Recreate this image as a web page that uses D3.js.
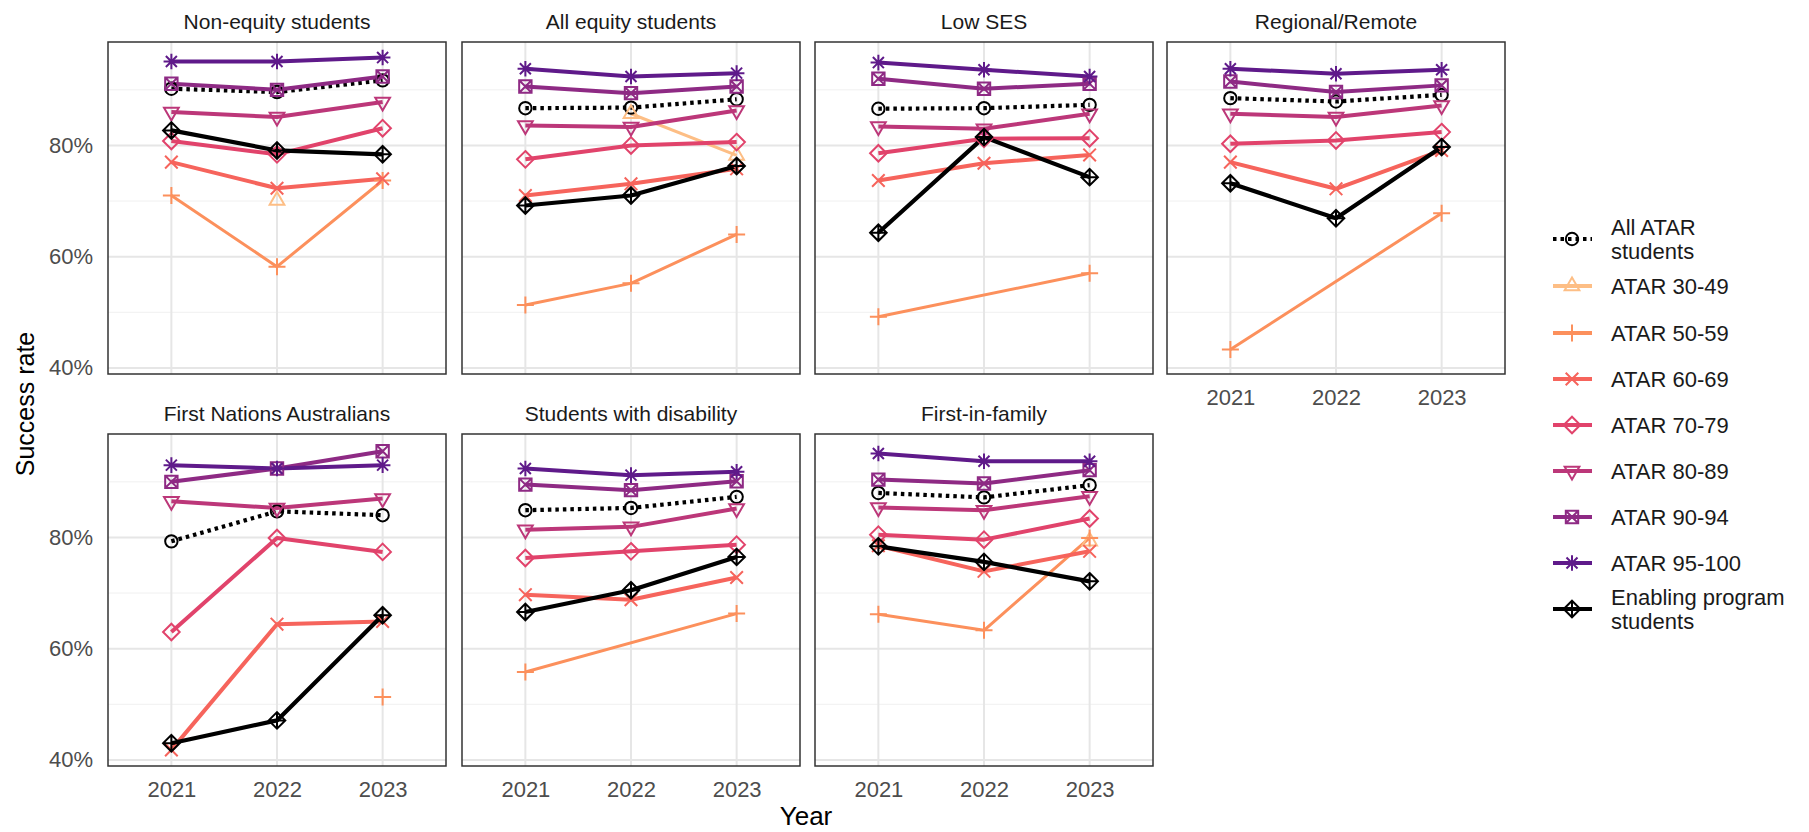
<!DOCTYPE html>
<html><head><meta charset="utf-8">
<script src="https://cdn.jsdelivr.net/npm/d3@7"></script>
<style>
body{margin:0;background:#fff;}
text{font-family:"Liberation Sans",Arial,Helvetica,sans-serif;}
</style>
</head><body>
<svg id="chart" width="1809" height="832"></svg>
<script>
// ---------------- DATA ----------------
const years = ["2021", "2022", "2023"];
const panelTitles = ["Non-equity students", "All equity students", "Low SES", "Regional/Remote",
  "First Nations Australians", "Students with disability", "First-in-family"];
const seriesNames = ["All ATAR students", "ATAR 30-49", "ATAR 50-59", "ATAR 60-69", "ATAR 70-79",
  "ATAR 80-89", "ATAR 90-94", "ATAR 95-100", "Enabling program students"];
const yTickValues = [40, 60, 80];
const yMinorValues = [50, 70, 90];

// rows = panels (same order as panelTitles), columns = years
const allAtar = [[90.2, 89.6, 91.7], [86.7, 86.8, 88.3], [86.6, 86.7, 87.3], [88.5, 87.9, 89.1],
  [79.3, 84.7, 84.0], [84.9, 85.3, 87.3], [88.0, 87.2, 89.4]];
const atar3049 = [[null, 70.1, null], [null, 85.7, 78.2], [null, null, null], [null, null, null],
  [null, null, null], [null, null, null], [null, null, 79.3]];
const atar5059 = [[71.0, 58.2, 73.7], [51.3, 55.2, 64.0], [49.2, null, 57.0], [43.3, null, 67.8],
  [null, null, 51.3], [55.8, null, 66.3], [66.2, 63.3, 79.9]];
const atar6069 = [[77.0, 72.3, 74.0], [71.0, 73.1, 75.8], [73.7, 76.8, 78.3], [77.0, 72.2, 79.1],
  [41.8, 64.4, 64.9], [69.7, 68.8, 72.8], [78.5, 73.9, 77.5]];
const atar7079 = [[80.8, 78.4, 83.1], [77.5, 80.0, 80.6], [78.6, 81.2, 81.3], [80.3, 80.9, 82.4],
  [63.0, 79.9, 77.4], [76.3, 77.5, 78.7], [80.5, 79.6, 83.4]];
const atar8089 = [[86.0, 85.1, 87.8], [83.6, 83.3, 86.3], [83.4, 83.0, 85.7], [85.7, 85.1, 87.2],
  [86.5, 85.3, 87.0], [81.4, 81.9, 85.2], [85.4, 84.9, 87.4]];
const atar9094 = [[91.1, 90.0, 92.4], [90.6, 89.4, 90.6], [92.0, 90.2, 91.1], [91.5, 89.6, 90.8],
  [90.0, 92.4, 95.5], [89.5, 88.5, 90.1], [90.4, 89.7, 92.1]];
const atar95100 = [[95.1, 95.1, 95.8], [93.8, 92.4, 93.0], [94.9, 93.6, 92.4], [93.8, 92.9, 93.6],
  [93.0, 92.4, 93.0], [92.4, 91.2, 91.8], [95.1, 93.7, 93.7]];
const enabling = [[82.7, 79.1, 78.4], [69.2, 71.0, 76.3], [64.3, 81.5, 74.3], [73.2, 66.9, 79.7],
  [43.0, 47.1, 66.0], [66.6, 70.5, 76.5], [78.4, 75.6, 72.1]];

const seriesValues = [allAtar, atar3049, atar5059, atar6069, atar7079, atar8089, atar9094, atar95100, enabling];

// ---------------- STYLE ----------------
const seriesColors = ["#000000", "#FDBE85", "#FC905C", "#F6645C", "#E1436B", "#BC3779", "#8E2A84", "#5F1A8A", "#000000"];
const seriesShapes = ["circle", "triUp", "plus", "cross", "diamond", "triDown", "squareX", "asterisk", "diamondPlus"];
const seriesWidths = [4.2, 3, 3, 4, 4, 4, 4, 4, 4.2];
const seriesDash = [null, null, null, null, null, null, null, null, null];
seriesDash[0] = "3.5,4";

const svg = d3.select("#chart");
const panelW = 338, panelH = 332;
const colLefts = [108, 462, 815, 1167];
const rowTops = [42, 434];
const yDomain = [38.9, 98.6];

function shapePath(shape) {
  switch (shape) {
    case "circle": { const r = 6.2; return `M${-r},0A${r},${r} 0 1,0 ${r},0A${r},${r} 0 1,0 ${-r},0Z`; }
    case "triUp": { const R = 8.5; return `M0,${-R}L${R*0.866},${R/2}L${-R*0.866},${R/2}Z`; }
    case "triDown": { const R = 8.5; return `M0,${R}L${R*0.866},${-R/2}L${-R*0.866},${-R/2}Z`; }
    case "plus": { const r = 8.5; return `M${-r},0H${r}M0,${-r}V${r}`; }
    case "cross": { const r = 6.3; return `M${-r},${-r}L${r},${r}M${-r},${r}L${r},${-r}`; }
    case "diamond": { const r = 8.3; return `M0,${-r}L${r},0L0,${r}L${-r},0Z`; }
    case "squareX": { const r = 6.2; return `M${-r},${-r}H${r}V${r}H${-r}ZM${-r},${-r}L${r},${r}M${-r},${r}L${r},${-r}`; }
    case "asterisk": { const r = 7.8, d = r*0.707; return `M${-r},0H${r}M0,${-r}V${r}M${-d},${-d}L${d},${d}M${-d},${d}L${d},${-d}`; }
    case "diamondPlus": { const r = 8.3; return `M0,${-r}L${r},0L0,${r}L${-r},0ZM${-r},0H${r}M0,${-r}V${r}`; }
  }
}

const y = d3.scaleLinear().domain(yDomain);

panelTitles.forEach((title, p) => {
  const row = p < 4 ? 0 : 1;
  const col = p < 4 ? p : p - 4;
  const left = colLefts[col], top = rowTops[row];
  const x = d3.scalePoint().domain(years).range([0, panelW]).padding(0.6);
  const ys = y.copy().range([panelH, 0]);
  const g = svg.append("g").attr("transform", `translate(${left},${top})`);

  // grid
  g.selectAll("line.minor").data(yMinorValues).join("line")
    .attr("x1", 0).attr("x2", panelW).attr("y1", d => ys(d)).attr("y2", d => ys(d))
    .attr("stroke", "#f0f0f0").attr("stroke-width", 1);
  g.selectAll("line.major").data(yTickValues).join("line")
    .attr("x1", 0).attr("x2", panelW).attr("y1", d => ys(d)).attr("y2", d => ys(d))
    .attr("stroke", "#e6e6e6").attr("stroke-width", 2);
  g.selectAll("line.vgrid").data(years).join("line")
    .attr("x1", d => x(d)).attr("x2", d => x(d)).attr("y1", 0).attr("y2", panelH)
    .attr("stroke", "#e6e6e6").attr("stroke-width", 2);

  // lines
  seriesValues.forEach((vals, s) => {
    const pts = years.map((yr, i) => ({ yr, v: vals[p][i] })).filter(d => d.v !== null);
    if (pts.length > 1) {
      g.append("path").datum(pts)
        .attr("d", d3.line().x(d => x(d.yr)).y(d => ys(d.v)))
        .attr("fill", "none").attr("stroke", seriesColors[s])
        .attr("stroke-width", seriesWidths[s])
        .attr("stroke-dasharray", seriesDash[s])
        .attr("stroke-linejoin", "round");
    }
  });
  // points
  seriesValues.forEach((vals, s) => {
    const pts = years.map((yr, i) => ({ yr, v: vals[p][i] })).filter(d => d.v !== null);
    g.selectAll(null).data(pts).join("path")
      .attr("transform", d => `translate(${x(d.yr)},${ys(d.v)})`)
      .attr("d", shapePath(seriesShapes[s]))
      .attr("fill", "none").attr("stroke", seriesColors[s]).attr("stroke-width", 2);
  });

  // border
  g.append("rect").attr("x", 0).attr("y", 0).attr("width", panelW).attr("height", panelH)
    .attr("fill", "none").attr("stroke", "#333").attr("stroke-width", 1.5);

  // strip title
  g.append("text").attr("x", panelW / 2).attr("y", -13.5).attr("text-anchor", "middle")
    .attr("font-size", 21).attr("fill", "#1a1a1a").text(title);

  // y axis
  if (col === 0) {
    const ax = g.append("g").call(d3.axisLeft(ys).tickValues(yTickValues).tickSize(0).tickPadding(15)
      .tickFormat(d => d + "%"));
    ax.select(".domain").remove();
    ax.selectAll("text").attr("font-size", 22).attr("fill", "#4d4d4d")
      .attr("font-family", "'Liberation Sans',Arial,sans-serif");
  }
  // x axis
  if (row === 1 || col === 3) {
    const ax = g.append("g").attr("transform", `translate(0,${panelH})`)
      .call(d3.axisBottom(x).tickSize(0).tickPadding(15));
    ax.select(".domain").remove();
    ax.selectAll("text").attr("font-size", 22).attr("fill", "#4d4d4d")
      .attr("font-family", "'Liberation Sans',Arial,sans-serif");
  }
});

// axis titles
svg.append("text").attr("x", 806).attr("y", 825).attr("text-anchor", "middle")
  .attr("font-size", 26).attr("fill", "#000").text("Year");
svg.append("text").attr("transform", "translate(34,404) rotate(-90)").attr("text-anchor", "middle")
  .attr("font-size", 25).attr("fill", "#000").text("Success rate");

// legend
const legendYs = [239, 286, 333, 379, 425, 471, 517, 563, 609];
const legendLines = [["All ATAR", "students"], ["ATAR 30-49"], ["ATAR 50-59"], ["ATAR 60-69"], ["ATAR 70-79"],
  ["ATAR 80-89"], ["ATAR 90-94"], ["ATAR 95-100"], ["Enabling program", "students"]];
const lg = svg.append("g");
seriesNames.forEach((name, s) => {
  const cy = legendYs[s];
  const item = lg.append("g").attr("transform", `translate(1572,${cy})`);
  item.append("line").attr("x1", -19).attr("x2", 20).attr("y1", 0).attr("y2", 0)
    .attr("stroke", seriesColors[s]).attr("stroke-width", 4)
    .attr("stroke-dasharray", seriesDash[s]);
  item.append("path").attr("d", shapePath(seriesShapes[s])).attr("fill", "none")
    .attr("stroke", seriesColors[s]).attr("stroke-width", 2);
  const lines = legendLines[s];
  const t = lg.append("text").attr("x", 1611).attr("font-size", 22).attr("fill", "#1a1a1a");
  lines.forEach((ln, i) => {
    t.append("tspan").attr("x", 1611)
      .attr("y", cy + (i - (lines.length - 1) / 2) * 24)
      .attr("dy", "0.36em").text(ln);
  });
});
</script>
</body></html>
